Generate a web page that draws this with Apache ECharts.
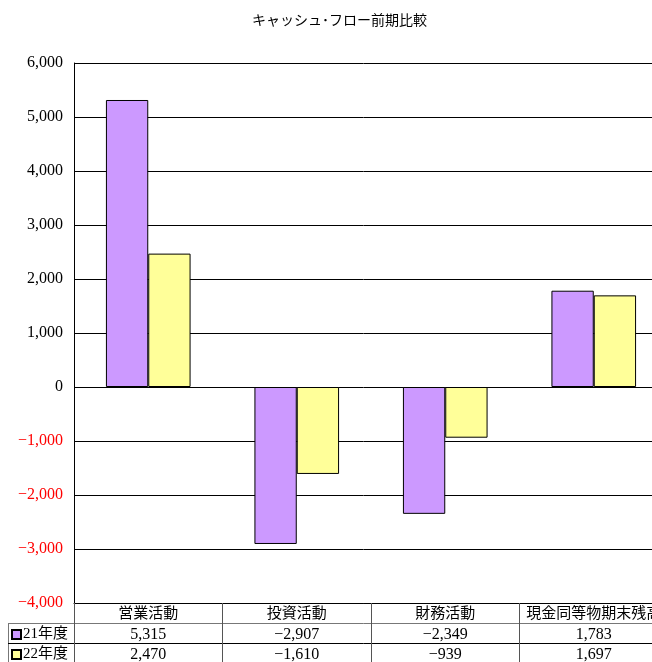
<!DOCTYPE html>
<html>
<head>
<meta charset="utf-8">
<script src="https://cdn.jsdelivr.net/npm/echarts@6/dist/echarts.min.js"></script>
<style>
html,body{margin:0;padding:0;background:#fff;}
#chart{width:652px;height:662px;}
</style>
</head>
<body>
<div id="chart"></div>
<script>
const titleText = 'キャッシュ･フロー前期比較';
const categories = ['営業活動', '投資活動', '財務活動', '現金同等物期末残高'];
const seriesNames = ['21年度', '22年度'];
const values21 = [5315, -2907, -2349, 1783];
const values22 = [2470, -1610, -939, 1697];
const yMin = -4000;
const yMax = 6000;
const yInterval = 1000;
const colors = ['#CC99FF', '#FFFF99'];

const FONT = "'Liberation Serif', 'Noto Sans CJK JP', serif";
function fmt(n) {
  return (n < 0 ? '\u2212' : '') + Math.abs(n).toLocaleString('en-US');
}

const chart = echarts.init(document.getElementById('chart'), null, {renderer: 'canvas'});

const tableAxis = (data, offset, lineColor, size) => ({
  type: 'category',
  gridIndex: 0,
  position: 'bottom',
  offset: offset,
  data: data,
  axisLine: {show: true, onZero: false, lineStyle: {color: lineColor, width: 1}},
  axisTick: {show: true, inside: false, length: 20, alignWithLabel: false, interval: 0, lineStyle: {color: '#555', width: 1}},
  axisLabel: {show: true, interval: 0, margin: 4, color: '#000', fontSize: size, fontFamily: FONT},
  splitLine: {show: false}
});

const legendBox = (name, top) => ({
  orient: 'vertical',
  left: 11,
  top: top,
  padding: 0,
  itemWidth: 9,
  itemHeight: 9,
  icon: 'rect',
  data: [name],
  textStyle: {fontSize: 15, color: '#000', fontFamily: FONT, padding: [0, 0, 0, -3]}
});

const option = {
  animation: false,
  backgroundColor: '#fff',
  title: {
    text: titleText,
    left: 247,
    top: 9,
    textStyle: {fontSize: 14, fontWeight: 'normal', color: '#000', fontFamily: FONT}
  },
  legend: [legendBox(seriesNames[0], 627), legendBox(seriesNames[1], 647)],
  grid: {left: 74, top: 63, width: 594, bottom: 59, containLabel: false, outerBoundsMode: 'none'},
  xAxis: [
    tableAxis(categories, 0, '#000', 15),
    tableAxis(values21.map(fmt), 20, '#777', 16),
    tableAxis(values22.map(fmt), 40, '#000', 16)
  ],
  yAxis: {
    type: 'value',
    min: yMin,
    max: yMax,
    interval: yInterval,
    axisLine: {show: true, lineStyle: {color: '#000', width: 1}},
    axisTick: {show: false},
    splitLine: {show: true, lineStyle: {color: '#000', width: 1}},
    axisLabel: {
      margin: 11,
      fontSize: 16,
      fontFamily: FONT,
      formatter: v => fmt(v),
      color: v => (Number(v) < 0 ? '#FF0000' : '#000')
    }
  },
  series: [
    {
      name: seriesNames[0], type: 'bar', xAxisIndex: 0, data: values21,
      barGap: '0%', barCategoryGap: '43%',
      itemStyle: {color: colors[0], borderColor: '#000', borderWidth: 1}
    },
    {
      name: seriesNames[1], type: 'bar', xAxisIndex: 0, data: values22,
      barGap: '0%', barCategoryGap: '43%',
      itemStyle: {color: colors[1], borderColor: '#000', borderWidth: 1}
    }
  ],
  graphic: [
    {type: 'line', shape: {x1: 8.5, y1: 623, x2: 8.5, y2: 662}, style: {stroke: '#777', lineWidth: 1}},
    {type: 'line', shape: {x1: 8, y1: 623.5, x2: 74, y2: 623.5}, style: {stroke: '#777', lineWidth: 1}},
    {type: 'line', shape: {x1: 8, y1: 643.5, x2: 74, y2: 643.5}, style: {stroke: '#000', lineWidth: 1}},
    {type: 'line', shape: {x1: 74.5, y1: 603, x2: 74.5, y2: 662}, style: {stroke: '#000', lineWidth: 1}}
  ]
};
chart.setOption(option);
</script>
</body>
</html>
